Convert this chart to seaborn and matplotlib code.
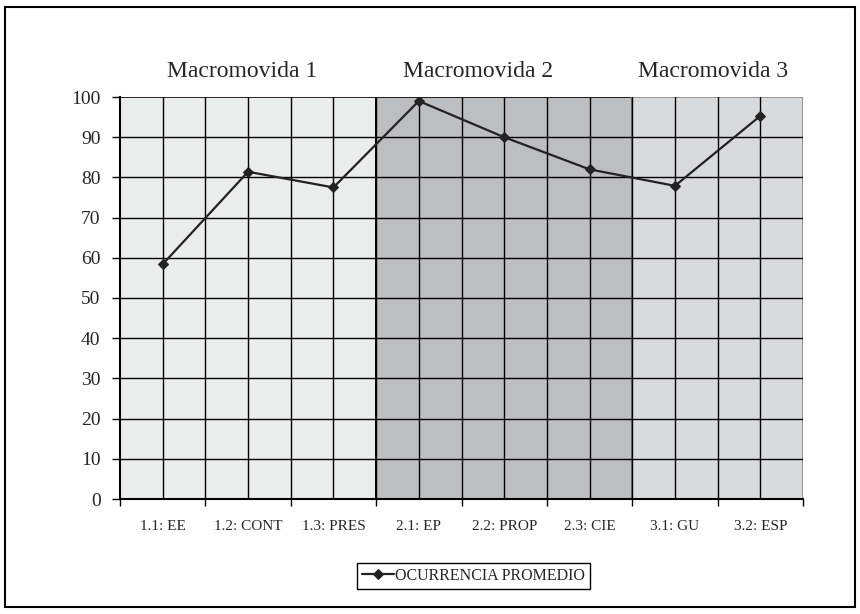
import pandas as pd
import numpy as np
import matplotlib.pyplot as plt
import matplotlib.patches as mpatches
import seaborn as sns

# Data
categories = ['1.1: EE', '1.2: CONT', '1.3: PRES', '2.1: EP', '2.2: PROP',
              '2.3: CIE', '3.1: GU', '3.2: ESP']
ocurrencia = [58.4, 81.4, 77.5, 99.0, 90.0, 82.0, 77.9, 95.3]
series_name = 'OCURRENCIA PROMEDIO'

groups = ['Macromovida 1', 'Macromovida 2', 'Macromovida 3']
group_sizes = [3, 3, 2]
group_colors = ['#ebecec', '#bdbec0', '#d9dadc']
group_edges = ['black', 'black', '#888888']
group_title_x = [0.93, 3.69, 6.45]

df = pd.DataFrame({'cat': categories, 'val': ocurrencia, 'serie': series_name})

sns.set_style('white')
plt.rcParams['font.family'] = ['Liberation Serif', 'DejaVu Serif']

fig = plt.figure(figsize=(8.6, 6.14), dpi=100)
ax = fig.add_axes([120 / 860, 1 - 499 / 614, 683 / 860, 402 / 614])

# shaded macromovida bands
start = -0.5
for name, size, col, ec, tx in zip(groups, group_sizes, group_colors, group_edges, group_title_x):
    ax.axvspan(start, start + size, facecolor=col, edgecolor=ec, lw=1.2, zorder=0)
    ax.text(tx, 1.05, name, transform=ax.get_xaxis_transform(), ha='center',
            va='baseline', fontsize=17)
    start += size

# grid
for y in np.arange(10, 100, 10):
    ax.axhline(y, color='black', lw=1.0, zorder=1)
for x in np.arange(0, len(categories) - 0.5, 0.5):
    ax.axvline(x, color='black', lw=1.0, zorder=1)

sns.lineplot(data=df, x='cat', y='val', hue='serie', palette=['#222222'],
             marker='D', markersize=5, markeredgecolor='#222222', lw=1.6,
             ax=ax, zorder=3, sort=False)

ax.set_xlim(-0.5, len(categories) - 0.5)
ax.set_ylim(0, 100)
ax.set_yticks(np.arange(0, 101, 10))
ax.set_xticks(range(len(categories)))
ax.set_xticklabels(categories, fontsize=11)
ax.set_xticks(np.arange(-0.5, len(categories), 1), minor=True)
ax.tick_params(axis='x', which='major', length=0, pad=15)
ax.tick_params(axis='x', which='minor', length=5, width=1, color='black', direction='out', bottom=True)
ax.tick_params(axis='y', length=6, width=1, color='black', direction='out', left=True,
               labelsize=14, pad=8)
ax.set_xlabel('')
ax.set_ylabel('')
for s in ['left', 'bottom']:
    ax.spines[s].set_color('black')
    ax.spines[s].set_linewidth(1.5)
for s in ['top', 'right']:
    ax.spines[s].set_visible(False)

handles, labels = ax.get_legend_handles_labels()
ax.legend(handles, labels, loc='center', bbox_to_anchor=(0.5506, 0.062),
          bbox_transform=fig.transFigure, frameon=True, fancybox=False,
          edgecolor='black', fontsize=11.5, handlelength=2.0, handletextpad=0.1,
          borderpad=0.3, borderaxespad=0, framealpha=1)
ax.get_legend().get_frame().set_linewidth(1.0)
ax.get_legend()._legend_box.sep = 0

# outer chart border
fig.patches.append(mpatches.Rectangle((5 / 860, 7 / 614), 850 / 860, 600 / 614,
                                      transform=fig.transFigure, fill=False,
                                      edgecolor='black', lw=1.5))

fig.savefig('out.png', dpi=100)
